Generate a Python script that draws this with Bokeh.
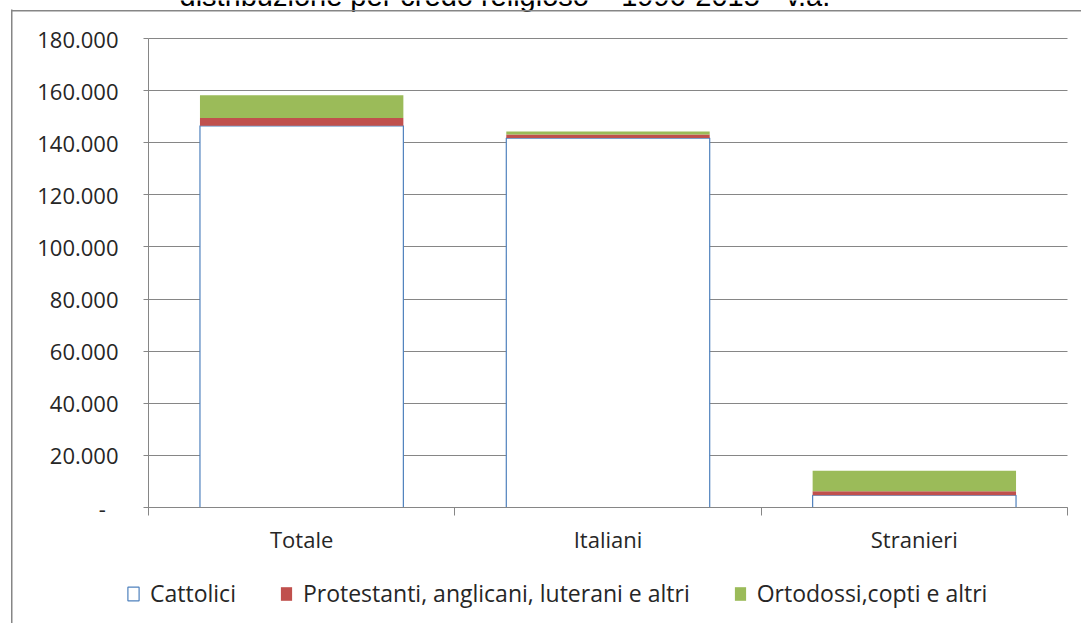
from bokeh.plotting import figure
from bokeh.models import Range1d, FixedTicker, Legend, LegendItem, Label, BoxAnnotation, Grid
from bokeh.embed import file_html
from bokeh.resources import INLINE

categories = ["Totale", "Italiani", "Stranieri"]
cattolici = [146500, 141800, 4700]
protestanti = [3000, 1400, 1500]
ortodossi = [8700, 1100, 7900]
series_names = ["Cattolici", "Protestanti, anglicani, luterani e altri", "Ortodossi,copti e altri"]
y_ticks = list(range(0, 180001, 20000))
title_text = "distribuzione per credo religioso – 1996-2015 - v.a."

GRAY = "#868686"
FONT = "Open Sans"
W, H = 1081, 623
# plot area (page pixels) of the reference
PL, PR, PT, PB = 148, 1067, 38, 507

x = [i + 0.5 for i in range(len(categories))]
bounds = list(range(len(categories) + 1))
top1 = cattolici
top2 = [a + b for a, b in zip(top1, protestanti)]
top3 = [a + b for a, b in zip(top2, ortodossi)]

ncat = len(categories)
ymax = y_ticks[-1]
xu = (PR - PL) / ncat          # px per category
yu = ymax / (PB - PT)          # value per px
x_range = Range1d(-PL / xu, ncat + (W - PR) / xu)
y_range = Range1d(-(H - PB) * yu, ymax + PT * yu)

p = figure(width=W, height=H, x_range=x_range, y_range=y_range,
           output_backend="svg", toolbar_location=None,
           min_border_left=0, min_border_right=0, min_border_top=0, min_border_bottom=0)
p.outline_line_color = None
p.background_fill_color = "white"
p.border_fill_color = "white"

bw = 0.664
r1 = p.vbar(x=x, bottom=0, top=top1, width=bw, fill_color="white", line_color="#4F81BD", line_width=1.2)
r2 = p.vbar(x=x, bottom=top1, top=top2, width=bw, fill_color="#C0504D", line_color=None)
r3 = p.vbar(x=x, bottom=top2, top=top3, width=bw, fill_color="#9BBB59", line_color=None)

ya = p.yaxis[0]
ya.fixed_location = 0
ya.bounds = (0, ymax)
ya.ticker = FixedTicker(ticks=y_ticks)
ya.major_label_overrides = {t: (f"{t // 1000}.000" if t else "-\u2007") for t in y_ticks}
ya.axis_line_color = GRAY
ya.major_tick_line_color = GRAY
ya.major_tick_in = 0
ya.major_tick_out = 5
ya.minor_tick_line_color = None
ya.major_label_standoff = 25
ya.major_label_text_font = FONT
ya.major_label_text_font_size = "22px"
ya.major_label_text_color = "#262626"

xa = p.xaxis[0]
xa.fixed_location = 0
xa.bounds = (0, ncat)
xa.ticker = FixedTicker(ticks=x, minor_ticks=bounds)
xa.major_label_overrides = {xi: c for xi, c in zip(x, categories)}
xa.axis_line_color = GRAY
xa.major_tick_line_color = None
xa.major_tick_in = 0
xa.major_tick_out = 0
xa.minor_tick_line_color = GRAY
xa.minor_tick_in = 0
xa.minor_tick_out = 8
xa.major_label_standoff = 8
xa.major_label_text_font = FONT
xa.major_label_text_font_size = "22px"
xa.major_label_text_color = "#262626"

p.xgrid.visible = False
if "cross_bounds" in Grid.properties():
    p.ygrid.ticker = FixedTicker(ticks=y_ticks)
    p.ygrid.bounds = (0, ymax)
    p.ygrid.cross_bounds = (0, ncat)
    p.ygrid.grid_line_color = GRAY
    p.ygrid.level = "underlay"
else:
    p.ygrid.visible = False
    p.segment(x0=0, x1=ncat, y0=y_ticks, y1=y_ticks, line_color=GRAY, line_width=1, level="underlay")

legend = Legend(items=[LegendItem(label=n, renderers=[r]) for n, r in zip(series_names, [r1, r2, r3])],
                orientation="horizontal", location=(126, 14), spacing=43, label_standoff=10,
                glyph_width=14, glyph_height=17, padding=0, margin=0,
                border_line_color=None, background_fill_alpha=0,
                label_text_font=FONT, label_text_font_size="23px", label_text_color="#262626")
p.add_layout(legend)

p.add_layout(Label(x=179, y=H + 5, x_units="screen", y_units="screen", text=title_text,
                   text_font="Liberation Sans", text_font_size="29px", text_baseline="alphabetic",
                   text_color="black"))
# outer chart frame (left and top edges)
p.add_layout(BoxAnnotation(left=10.5, right=12, bottom=None, top=H - 9, left_units="screen",
                           right_units="screen", top_units="screen",
                           fill_color=GRAY, fill_alpha=1, line_color=None))
p.add_layout(BoxAnnotation(left=11, right=None, bottom=H - 11, top=H - 9.5, left_units="screen",
                           bottom_units="screen", top_units="screen",
                           fill_color=GRAY, fill_alpha=1, line_color=None))

open("out.html", "w").write(file_html(p, INLINE))
